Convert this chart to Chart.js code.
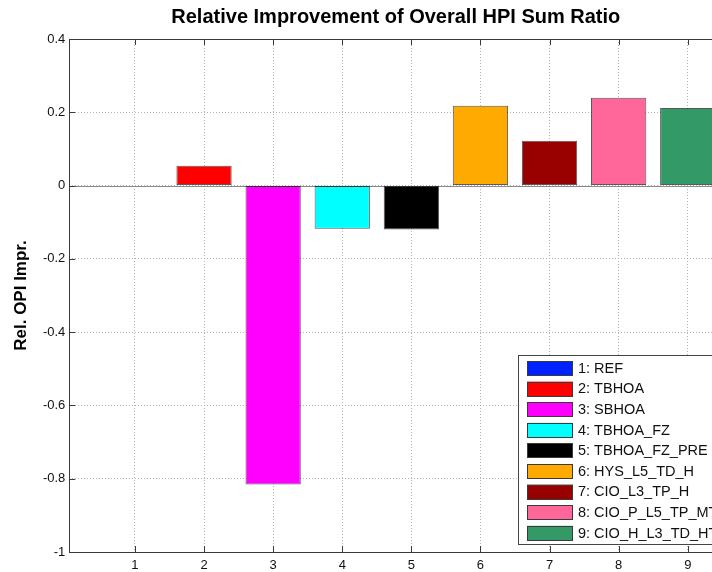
<!DOCTYPE html>
<html>
<head>
<meta charset="utf-8">
<script src="https://cdn.jsdelivr.net/npm/chart.js@4/dist/chart.umd.min.js"></script>
<style>
html,body{margin:0;padding:0;background:#fff;overflow:hidden;}
#wrap{width:712px;height:572px;overflow:hidden;position:relative;}
canvas{display:block;}
</style>
</head>
<body>
<div id="wrap"><canvas id="c" width="760" height="572"></canvas></div>
<script>
// ---- data ----
const xPositions = [1, 2, 3, 4, 5, 6, 7, 8, 9];
const seriesNames = ['1: REF', '2: TBHOA', '3: SBHOA', '4: TBHOA_FZ', '5: TBHOA_FZ_PRE',
  '6: HYS_L5_TD_H', '7: CIO_L3_TP_H', '8: CIO_P_L5_TP_MT', '9: CIO_H_L3_TD_HT'];
const improvementValues = [0, 0.054, -0.816, -0.118, -0.12, 0.218, 0.122, 0.240, 0.212];
const barColors = ['#0022ff', '#ff0000', '#ff00ff', '#00ffff', '#000000',
  '#ffaa00', '#990000', '#ff6699', '#339966'];
const yTicks = [0.4, 0.2, 0, -0.2, -0.4, -0.6, -0.8, -1];
const xTicks = [1, 2, 3, 4, 5, 6, 7, 8, 9];

const FONT = "'Liberation Sans', Arial, Helvetica, sans-serif";
const FRAME = '#3a3a3a';

const framePlugin = {
  id: 'frame',
  beforeDatasetsDraw(chart) {
    const {ctx, chartArea: a, scales: {x, y}} = chart;
    ctx.save();
    const y0 = y.getPixelForValue(0);
    ctx.strokeStyle = '#8a8a8a';
    ctx.lineWidth = 1;
    ctx.beginPath();
    ctx.moveTo(a.left, Math.round(y0) + 0.5);
    ctx.lineTo(a.right, Math.round(y0) + 0.5);
    ctx.stroke();
    ctx.restore();
  },
  afterDatasetsDraw(chart) {
    const {ctx, chartArea: a, scales: {x, y}} = chart;
    ctx.save();
    ctx.strokeStyle = FRAME;
    ctx.lineWidth = 1;
    ctx.setLineDash([]);
    ctx.strokeRect(Math.round(a.left) + 0.5, Math.round(a.top) + 0.5,
      Math.round(a.right - a.left), Math.round(a.bottom - a.top));
    const tl = 6;
    ctx.beginPath();
    xTicks.forEach(v => {
      const px = Math.round(x.getPixelForValue(v)) + 0.5;
      ctx.moveTo(px, a.top); ctx.lineTo(px, a.top + tl);
      ctx.moveTo(px, a.bottom); ctx.lineTo(px, a.bottom - tl);
    });
    yTicks.forEach(v => {
      const py = Math.round(y.getPixelForValue(v)) + 0.5;
      ctx.moveTo(a.left, py); ctx.lineTo(a.left + tl, py);
      ctx.moveTo(a.right, py); ctx.lineTo(a.right - tl, py);
    });
    ctx.stroke();

    // legend box inside plot, bottom-right
    const lx = 518.5, ly = 355.5, lw = 230, lh = 189;
    ctx.fillStyle = '#ffffff';
    ctx.fillRect(lx, ly, lw, lh);
    ctx.strokeStyle = '#444';
    ctx.strokeRect(lx, ly, lw, lh);
    ctx.font = '14.5px ' + FONT;
    ctx.textBaseline = 'middle';
    ctx.textAlign = 'left';
    const ds = chart.data.datasets[0];
    seriesNames.forEach((name, i) => {
      const top = 361 + i * 20.6;
      ctx.fillStyle = ds.backgroundColor[i];
      ctx.fillRect(527, top, 46, 14.5);
      ctx.strokeStyle = '#3a3a3a';
      ctx.strokeRect(527.5, Math.round(top) + 0.5, 45, 14);
      ctx.fillStyle = '#111';
      ctx.fillText(name, 578, top + 7.8);
    });
    ctx.restore();
  }
};

new Chart(document.getElementById('c'), {
  type: 'bar',
  data: {
    datasets: [{
      label: 'Rel. OPI Impr.',
      data: xPositions.map((xv, i) => ({x: xv, y: improvementValues[i]})),
      backgroundColor: barColors,
      borderColor: 'rgba(0,0,0,0.65)',
      borderWidth: 1,
      borderSkipped: false,
      barPercentage: 0.8,
      categoryPercentage: 1.0
    }]
  },
  options: {
    responsive: false,
    animation: false,
    devicePixelRatio: 1,
    layout: {padding: {left: 0, right: 37.7, top: 0, bottom: 0}},
    plugins: {
      legend: {display: false},
      tooltip: {enabled: false},
      title: {
        display: true,
        fullSize: false,
        text: 'Relative Improvement of Overall HPI Sum Ratio',
        color: '#000',
        font: {family: FONT, size: 20, weight: 'bold', lineHeight: 1.2},
        padding: {top: 5, bottom: 10}
      }
    },
    scales: {
      x: {
        type: 'linear',
        offset: false,
        min: 0.05,
        max: 9.5,
        afterBuildTicks(scale) { scale.ticks = xTicks.map(v => ({value: v})); },
        afterFit(scale) { scale.height = 20; },
        grid: {offset: false, color: '#b4b4b4', lineWidth: 1, drawTicks: false},
        border: {display: false, dash: [1, 2]},
        ticks: {
          color: '#111',
          padding: 6,
          font: {family: FONT, size: 13},
          callback: v => String(v)
        }
      },
      y: {
        min: -1,
        max: 0.4,
        afterBuildTicks(scale) { scale.ticks = yTicks.map(v => ({value: v})); },
        afterFit(scale) { scale.width = 69.3; },
        grid: {color: '#b4b4b4', lineWidth: 1, drawTicks: false},
        border: {display: false, dash: [1, 2]},
        ticks: {
          color: '#111',
          padding: 4,
          font: {family: FONT, size: 13},
          callback: v => String(Math.round(v * 10) / 10)
        },
        title: {
          display: true,
          text: 'Rel. OPI Impr.',
          color: '#000',
          font: {family: FONT, size: 17, weight: 'bold', lineHeight: 1.2},
          padding: {top: 11, bottom: 0}
        }
      }
    }
  },
  plugins: [framePlugin]
});
</script>
</body>
</html>
